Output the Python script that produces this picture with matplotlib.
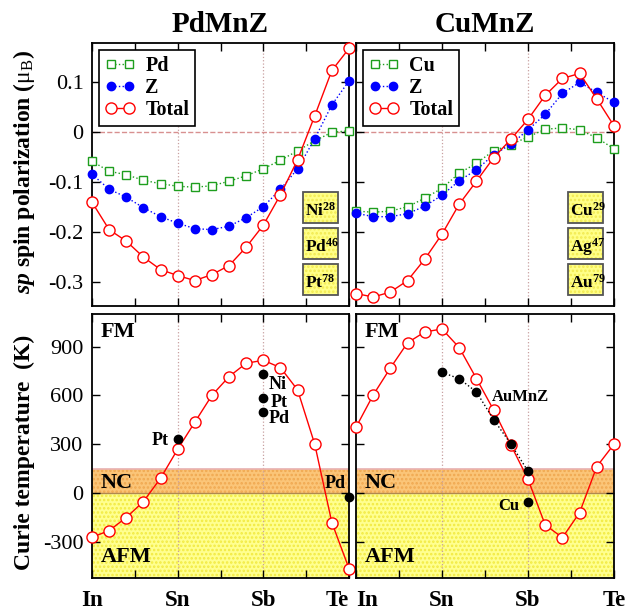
import numpy as np
import matplotlib
matplotlib.use('Agg')
import matplotlib.pyplot as plt
from matplotlib.patches import Rectangle

plt.rcParams['font.family'] = 'Liberation Serif'
plt.rcParams['mathtext.fontset'] = 'custom'
plt.rcParams['mathtext.rm'] = 'Liberation Serif'
plt.rcParams['mathtext.it'] = 'Liberation Serif:italic:bold'
plt.rcParams['mathtext.bf'] = 'Liberation Serif:bold'
plt.rcParams['axes.unicode_minus'] = False
plt.rcParams['hatch.linewidth'] = 1.2

# composition axis: In=0, Sn=1, Sb=2, Te=3, steps of 0.2
x = np.arange(16) * 0.2
tick_pos = [0, 0.5, 1, 1.5, 2, 2.5, 3]
tick_lab = ['In', '', 'Sn', '', 'Sb', '', 'Te']

# sp spin polarization, PdMnZ
pd_x = [-0.058, -0.078, -0.085, -0.096, -0.103, -0.108, -0.110, -0.107,
        -0.098, -0.087, -0.073, -0.056, -0.037, -0.017, 0.000, 0.003]
pd_z = [-0.084, -0.114, -0.130, -0.151, -0.169, -0.182, -0.193, -0.195,
        -0.188, -0.171, -0.149, -0.114, -0.073, -0.013, 0.055, 0.103]
pd_tot = [-0.140, -0.195, -0.218, -0.250, -0.275, -0.287, -0.297, -0.285,
          -0.267, -0.230, -0.186, -0.125, -0.055, 0.033, 0.124, 0.168]

# sp spin polarization, CuMnZ
cu_x = [-0.158, -0.160, -0.158, -0.149, -0.132, -0.112, -0.082, -0.062,
        -0.037, -0.025, -0.009, 0.006, 0.009, 0.005, -0.011, -0.033]
cu_z = [-0.162, -0.169, -0.169, -0.163, -0.148, -0.126, -0.097, -0.075,
        -0.045, -0.024, 0.005, 0.036, 0.078, 0.100, 0.080, 0.060]
cu_tot = [-0.323, -0.330, -0.320, -0.297, -0.254, -0.204, -0.144, -0.098,
          -0.051, -0.014, 0.026, 0.074, 0.108, 0.118, 0.067, 0.013]

# Curie temperatures (K)
tc_pd = [-270, -229, -149, -51, 92, 270, 436, 601, 716, 798, 816, 771,
         634, 301, -180, -462]
tc_cu = [405, 603, 769, 924, 990, 1008, 894, 704, 511, 297, 86, -194,
         -272, -119, 164, 301]

# other compounds (black dots)
pd_extra_x = [1.0, 2.0, 2.0, 2.0, 3.0]
pd_extra_y = [333, 734, 583, 501, -22]
au_x = [1.0, 1.2, 1.4, 1.6, 1.8, 2.0]
au_y = [742, 703, 622, 452, 303, 135]
cu_extra_x = [2.0]
cu_extra_y = [-53]

boxes_pd = [('Ni', '28'), ('Pd', '46'), ('Pt', '78')]
boxes_cu = [('Cu', '29'), ('Ag', '47'), ('Au', '79')]

green = '#1e9e1e'
W, H = 635, 612
fig = plt.figure(figsize=(W / 100, H / 100), dpi=100)


def add_ax(x0, y0, x1, y1):
    return fig.add_axes([x0 / W, 1 - y1 / H, (x1 - x0) / W, (y1 - y0) / H])


ax_tl = add_ax(92, 43, 349, 306)
ax_tr = add_ax(356, 43, 614, 306)
ax_bl = add_ax(92, 314, 349, 578)
ax_br = add_ax(356, 314, 614, 578)


def style(ax, ylim, yticks, show_y, show_x):
    ax.set_xlim(0, 3)
    ax.set_ylim(*ylim)
    ax.set_xticks(tick_pos)
    ax.set_yticks(yticks)
    ax.tick_params(direction='in', top=True, right=True, length=6, width=1,
                   labelsize=16, pad=6)
    if show_x:
        ax.set_xticklabels(tick_lab, fontsize=16.5, fontweight='bold')
        ax.tick_params(axis='x', pad=9)
    else:
        ax.set_xticklabels([])
    if not show_y:
        ax.set_yticklabels([])
    for s in ax.spines.values():
        s.set_linewidth(1.3)
    for xv in [1, 2]:
        ax.axvline(xv, color='#c8a0a0', ls=':', lw=0.9, zorder=1)


ytop = [-0.3, -0.2, -0.1, 0, 0.1]
ybot = [-300, 0, 300, 600, 900]
style(ax_tl, (-0.348, 0.179), ytop, True, False)
style(ax_tr, (-0.348, 0.179), ytop, False, False)
style(ax_bl, (-520, 1100), ybot, True, True)
style(ax_br, (-520, 1100), ybot, False, True)
ax_tl.set_yticklabels(['-0.3', '-0.2', '-0.1', '0', '0.1'])
ax_bl.set_yticklabels(['-300', '0', '300', '600', '900'])

# nudge the end labels so "Te" and "In" do not collide in the middle
bl_labels = ax_bl.get_xticklabels()
bl_labels[-1].set_horizontalalignment('right')
br_labels = ax_br.get_xticklabels()
br_labels[0].set_horizontalalignment('left')


def top_panel(ax, xs, zs, tot, lab, boxes):
    ax.axhline(0, color='#d89090', ls='--', lw=1, zorder=1)
    ax.plot(x, xs, ':', color=green, lw=1, marker='s', ms=6, mfc='white',
            mec=green, mew=1, label=lab, clip_on=False, zorder=3)
    ax.plot(x, zs, ':', color='blue', lw=1, marker='o', ms=6, mfc='blue',
            mec='blue', label='Z', clip_on=False, zorder=4)
    ax.plot(x, tot, '-', color='red', lw=1, marker='o', ms=8, mfc='white',
            mec='red', mew=1, label='Total', clip_on=False, zorder=5)
    leg = ax.legend(loc='upper left', prop={'weight': 'bold', 'size': 14.5},
                    fancybox=False, edgecolor='black', framealpha=1,
                    handlelength=1.5, handletextpad=0.5, labelspacing=0.1,
                    borderpad=0.3, borderaxespad=0.35, numpoints=2)
    leg.get_frame().set_linewidth(1.2)
    for i, (el, num) in enumerate(boxes):
        y0 = 0.316 - i * 0.137
        ax.add_patch(Rectangle((0.821, y0), 0.136, 0.117, transform=ax.transAxes,
                               facecolor='#ffff88', edgecolor='#f2ea50',
                               lw=0, hatch='....', zorder=6))
        ax.add_patch(Rectangle((0.821, y0), 0.136, 0.117, transform=ax.transAxes,
                               facecolor='none', edgecolor='#555555', lw=1.3,
                               zorder=7))
        ax.text(0.828, y0 + 0.045, el + r'$^{\mathbf{' + num + '}}$',
                transform=ax.transAxes, fontsize=12.5, fontweight='bold',
                va='center', ha='left', zorder=8)


top_panel(ax_tl, pd_x, pd_z, pd_tot, 'Pd', boxes_pd)
top_panel(ax_tr, cu_x, cu_z, cu_tot, 'Cu', boxes_cu)


def bottom_panel(ax, tc):
    ax.axhspan(0, 150, facecolor='#fbc578', edgecolor='#f0a850', lw=0,
               hatch='....', zorder=0)
    ax.axhspan(-600, 0, facecolor='#ffff90', edgecolor='#f2ea40', lw=0,
               hatch='....', zorder=0)
    ax.axhline(150, color='#e8b0b0', lw=1.2, zorder=1)
    ax.axhline(0, color='#b08850', lw=1, zorder=1)
    ax.plot(x, tc, '-', color='red', lw=1, marker='o', ms=8, mfc='white',
            mec='red', mew=1, clip_on=False, zorder=5)


bottom_panel(ax_bl, tc_pd)
bottom_panel(ax_br, tc_cu)

ax_bl.plot(pd_extra_x, pd_extra_y, 'o', color='black', ms=6, clip_on=False,
           zorder=6)
ax_br.plot(au_x, au_y, ':', color='black', lw=1, marker='o', ms=6,
           clip_on=False, zorder=6)
ax_br.plot(cu_extra_x, cu_extra_y, 'o', color='black', ms=6, zorder=6)

bold = dict(fontweight='bold')
for ax in (ax_bl, ax_br):
    ax.text(0.1, 990, 'FM', fontsize=16, va='center', **bold, zorder=7)
    ax.text(0.1, 65, 'NC', fontsize=16, va='center', **bold, zorder=7)
    ax.text(0.1, -390, 'AFM', fontsize=16, va='center', **bold, zorder=7)

ax_bl.text(0.9, 325, 'Pt', fontsize=13, ha='right', va='center', **bold)
ax_bl.text(2.06, 665, 'Ni', fontsize=13, va='center', **bold)
ax_bl.text(2.08, 556, 'Pt', fontsize=13, va='center', **bold)
ax_bl.text(2.06, 456, 'Pd', fontsize=13, va='center', **bold)
ax_bl.text(2.96, 61, 'Pd', fontsize=13, ha='right', va='center', **bold)
ax_br.text(1.58, 593, 'AuMnZ', fontsize=12, va='center', **bold)
ax_br.text(1.9, -76, 'Cu', fontsize=12, ha='right', va='center', **bold)

ax_tl.set_title('PdMnZ', fontsize=21, fontweight='bold', pad=8)
ax_tr.set_title('CuMnZ', fontsize=21, fontweight='bold', pad=8)

fig.text(24 / W, 1 - 172 / H,
         r'$sp$ spin polarization ($\mathrm{\mu}_\mathrm{B}$)',
         rotation=90, fontsize=17, fontweight='bold', ha='center', va='center')
fig.text(24 / W, 1 - 452 / H, 'Curie temperature  (K)', rotation=90,
         fontsize=17, fontweight='bold', ha='center', va='center')

fig.savefig('out.png', dpi=100)
